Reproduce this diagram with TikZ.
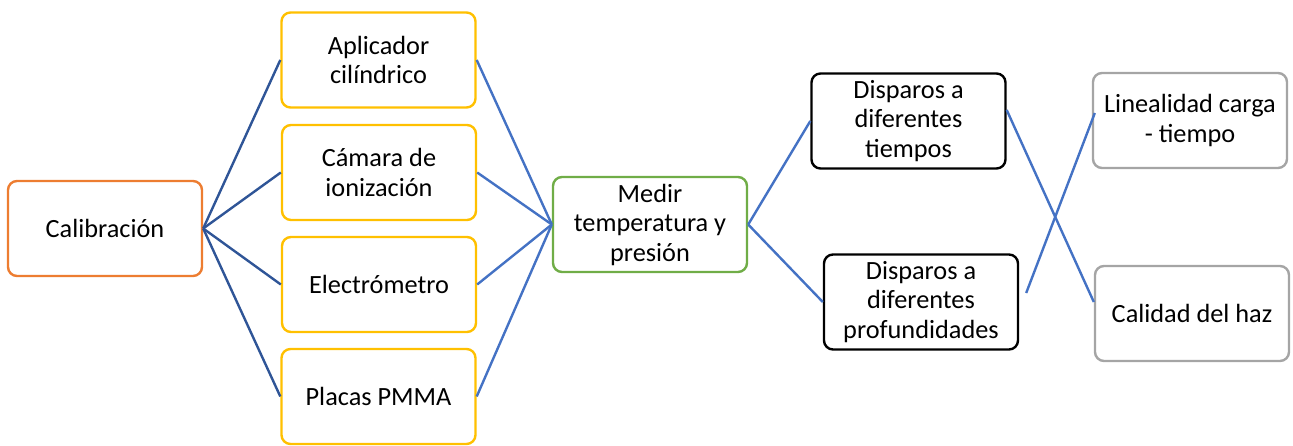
\documentclass[tikz,border=0pt]{standalone}
\usepackage{fontspec}
\setmainfont{Carlito}
\definecolor{corange}{HTML}{ED7D31}
\definecolor{cyellow}{HTML}{FFC000}
\definecolor{cgreen}{HTML}{70AD47}
\definecolor{cgray}{HTML}{A5A5A5}
\definecolor{cdark}{HTML}{2F5597}
\definecolor{cblue}{HTML}{4472C4}
\begin{document}
\begin{tikzpicture}[x=1pt,y=1pt,
  box/.style={draw, rounded corners=9pt, line width=2.4pt, fill=white,
    minimum width=194pt, minimum height=95pt, align=center,
    font=\fontsize{26.3}{29.5}\selectfont, inner sep=2pt},
  darkline/.style={draw=cdark, line width=2.4pt},
  blueline/.style={draw=cblue, line width=2.4pt}]
\useasboundingbox (0,0) rectangle (1293,446);
% nodes
\node[box, draw=corange] (cal) at (105,217.5) {Calibración};
\node[box, draw=cyellow] (apl) at (378.5,386) {Aplicador\\cilíndrico};
\node[box, draw=cyellow] (cam) at (379,273.5) {Cámara de\\ionización};
\node[box, draw=cyellow] (ele) at (379,161.5) {Electrómetro};
\node[box, draw=cyellow] (pla) at (378.5,49.5) {Placas PMMA};
\node[box, draw=cgreen] (med) at (650,221.5) {Medir\\temperatura y\\presión};
\node[box, draw=black] (tie) at (908.5,325) {Disparos a\\diferentes\\tiempos};
\node[box, draw=black] (pro) at (921,144) {Disparos a\\diferentes\\profundidades};
\node[box, draw=cgray] (lin) at (1190,325.5) {Linealidad carga\\- tiempo};
\node[box, draw=cgray] (cal2) at (1192,132.5) {Calidad del haz};
% free ends of the crossing connectors
\coordinate (t1) at ([yshift=11pt]tie.east);
\coordinate (t2) at ([yshift=11.5pt]cal2.west);
\coordinate (p1) at ([xshift=7pt,yshift=9pt]pro.east);
\coordinate (p2) at ([xshift=3pt,yshift=7.5pt]lin.west);
% connectors
\foreach \n in {apl,cam,ele,pla} {
  \draw[darkline] (cal.east) -- (\n.west);
  \draw[blueline] (\n.east) -- (med.west);
}
\draw[blueline] (med.east) -- (tie.west);
\draw[blueline] (med.east) -- (pro.west);
\draw[blueline] (t1) -- (t2);
\draw[blueline] (p1) -- (p2);
\end{tikzpicture}
\end{document}
